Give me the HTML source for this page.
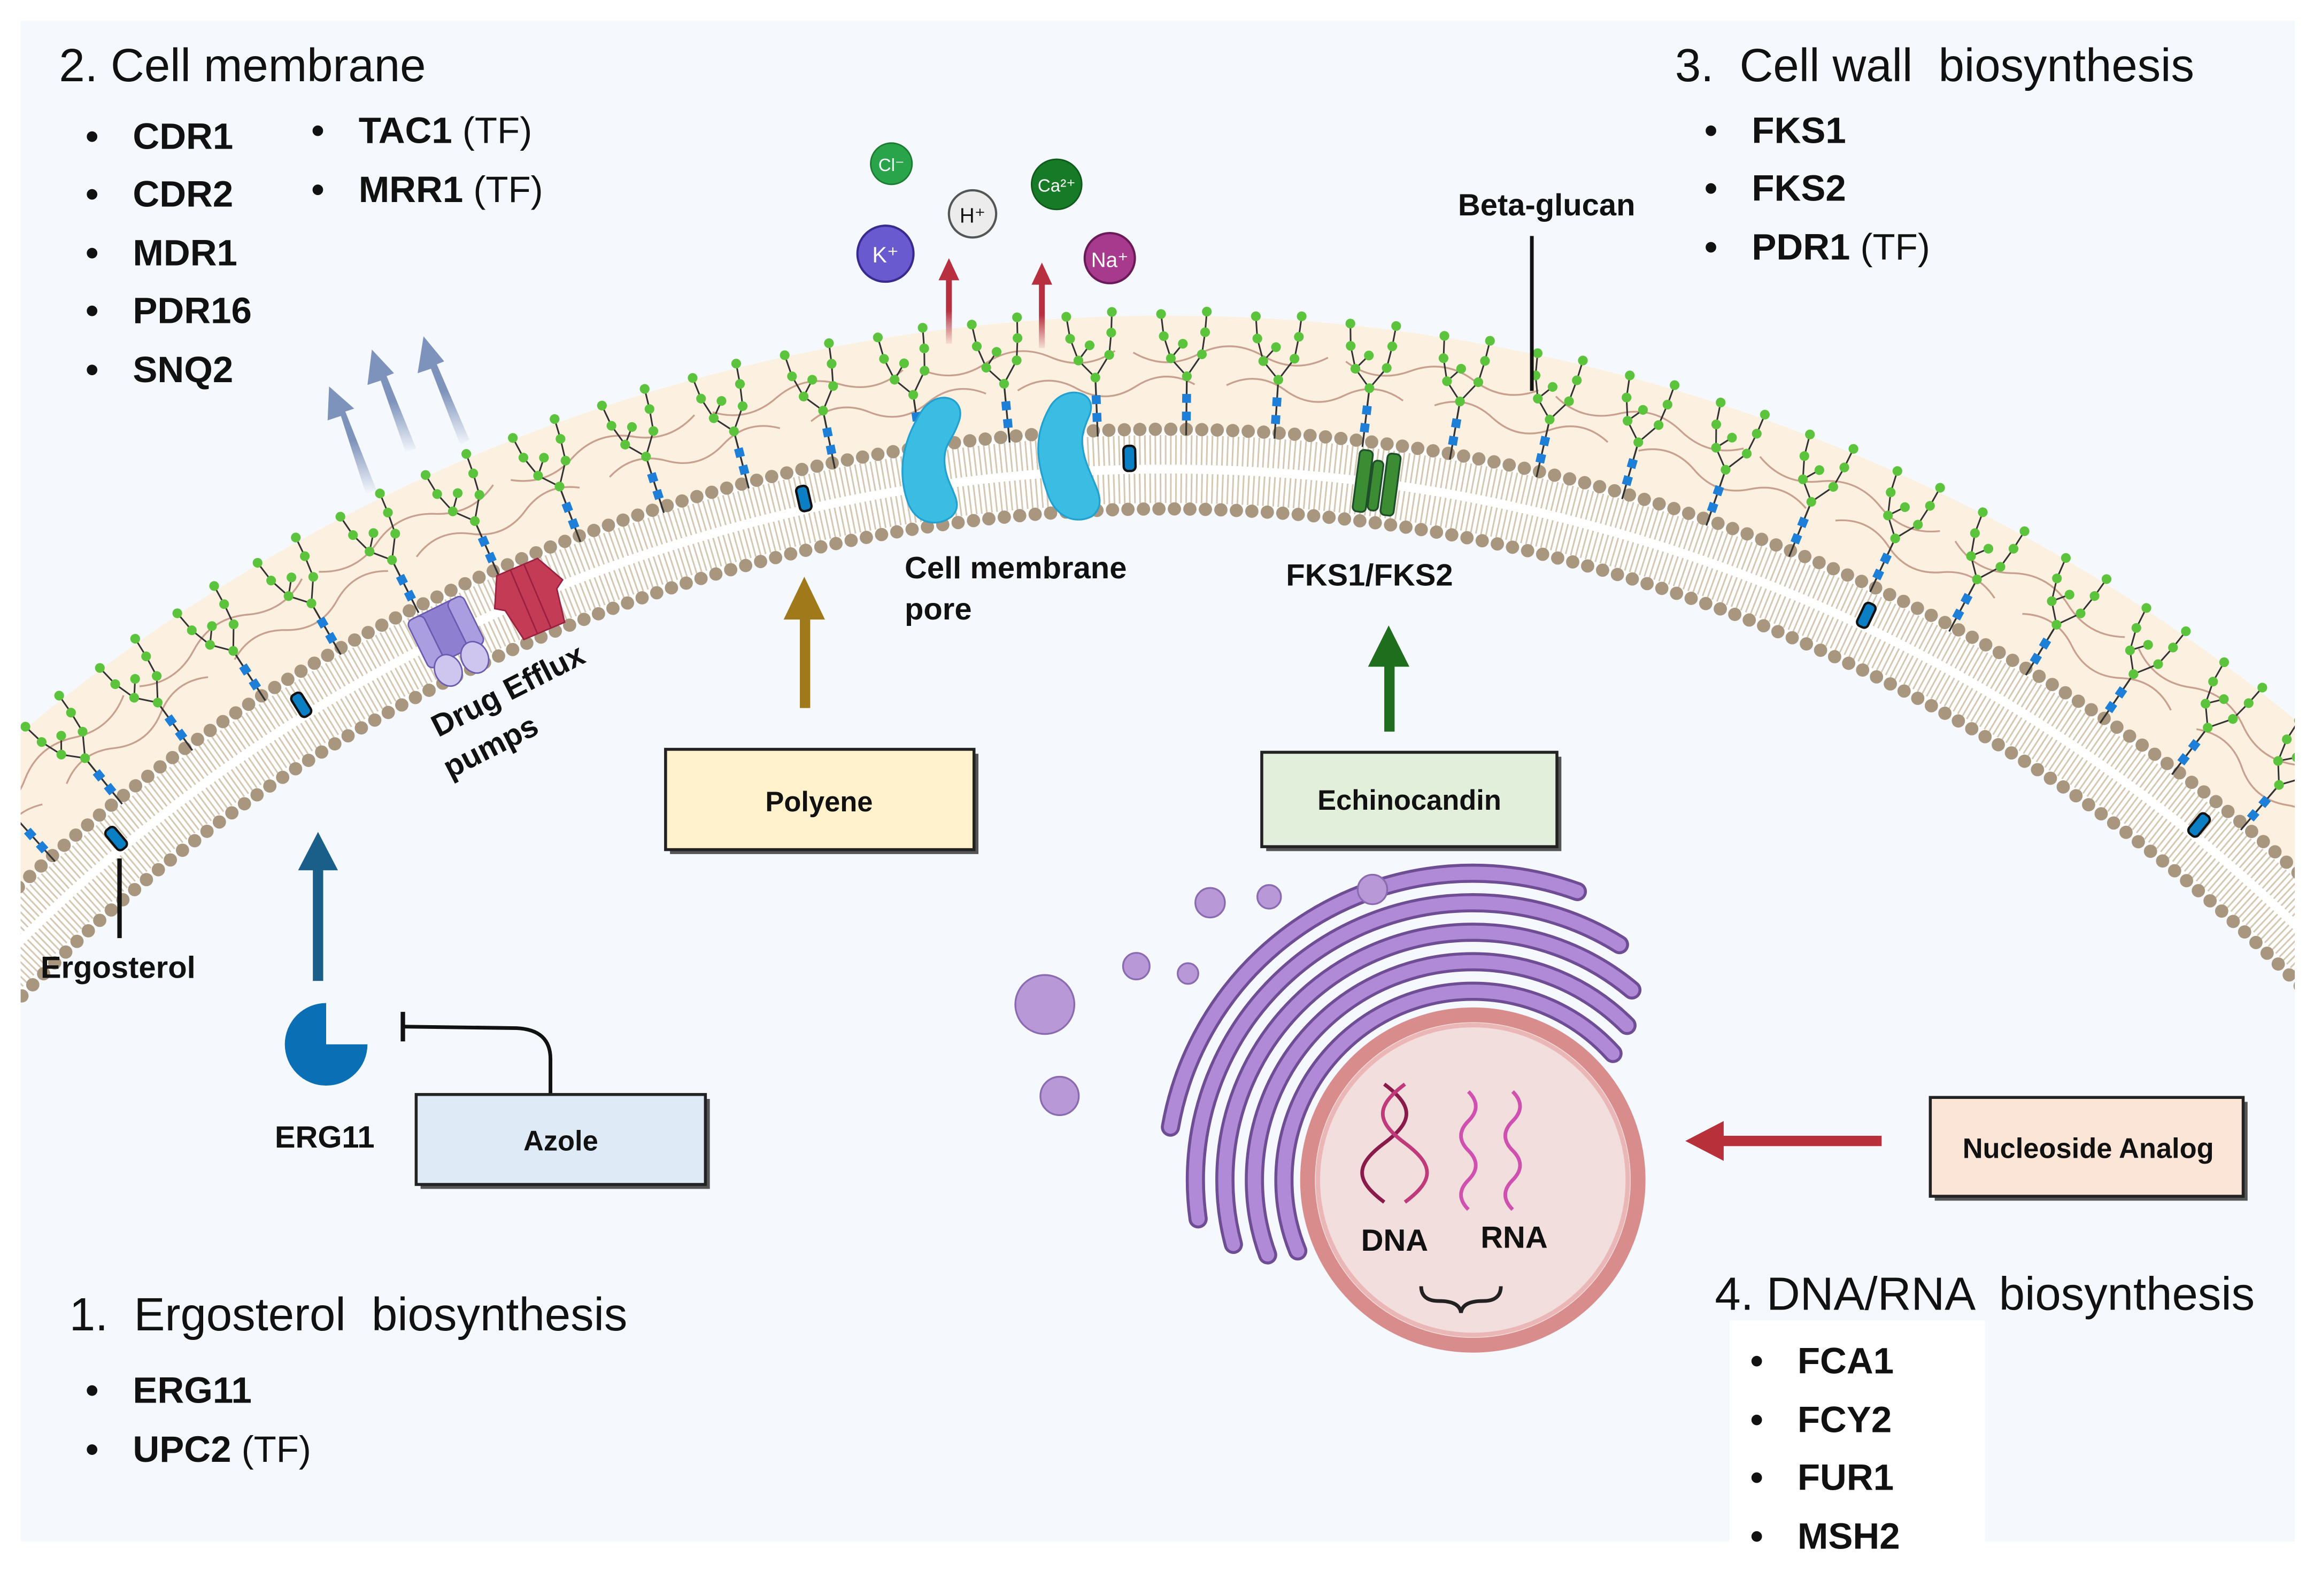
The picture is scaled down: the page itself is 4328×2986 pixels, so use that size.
<!DOCTYPE html>
<html><head><meta charset="utf-8"><style>
html,body{margin:0;padding:0;background:#fff;overflow:hidden;width:4328px;height:2986px;}
svg{display:block;}
text{font-family:"Liberation Sans",sans-serif;fill:#111;}
.h{font-size:31.5px;white-space:pre;}
.b{font-size:25px;font-weight:bold;}
.r{font-size:25px;font-weight:normal;}
.l{font-size:21px;font-weight:bold;}
.bx{font-size:19px;font-weight:bold;}
</style></head><body>
<svg width="4328" height="2986" viewBox="0 0 1568 1082" preserveAspectRatio="none" xmlns="http://www.w3.org/2000/svg">
<defs>
<clipPath id="cp"><rect x="14" y="14" width="1541" height="1031"/></clipPath>
<g id="gly" transform="translate(47 -3)">
 <line x1="743" y1="298" x2="743" y2="258" stroke="#333" stroke-width="1.2"/>
 <polyline points="743,258 732,246 727,231 725,216" fill="none" stroke="#333" stroke-width="1.1"/>
 <polyline points="732,246 740,236" fill="none" stroke="#333" stroke-width="1.1"/>
 <polyline points="743,258 753,243 755,228 756,214" fill="none" stroke="#333" stroke-width="1.1"/>
 <rect x="740" y="282" width="6" height="6" fill="#1e7fd8"/>
 <rect x="740" y="270" width="6" height="6" fill="#1e7fd8"/>
 <g fill="#5cc43c"><circle cx="743" cy="258" r="3.3"/><circle cx="732" cy="246" r="3.3"/><circle cx="727" cy="231" r="3.3"/><circle cx="725" cy="216" r="3.3"/><circle cx="740" cy="236" r="3.3"/><circle cx="753" cy="243" r="3.3"/><circle cx="755" cy="228" r="3.3"/><circle cx="756" cy="214" r="3.3"/></g>
</g>
<path id="fib1" d="M 730 262 q 20 -12 40 0 t 40 0 t 40 0" fill="none" stroke="#c9a08e" stroke-width="1.2"/>
<path id="fib2" d="M 737 240 q 22 12 44 0 t 44 0 t 44 0" fill="none" stroke="#c9a08e" stroke-width="1.2"/>
<rect id="erg" x="786.5" y="302" width="8" height="17" rx="3" fill="#0a7fc4" stroke="#111" stroke-width="1.6"/>
<linearGradient id="fadeB" x1="0" y1="1" x2="0" y2="0"><stop offset="0" stop-color="#7e93bb" stop-opacity="0"/><stop offset="0.5" stop-color="#7e93bb"/></linearGradient>
<linearGradient id="fadeR" x1="0" y1="1" x2="0" y2="0"><stop offset="0" stop-color="#b83040" stop-opacity="0.1"/><stop offset="0.5" stop-color="#b83040"/></linearGradient>
</defs>
<rect x="14" y="14" width="1541" height="1031" fill="#f5f8fc"/>
<g clip-path="url(#cp)">
 <circle cx="790" cy="1420" r="1168" fill="none" stroke="#fcf1e1" stroke-width="76"/>
 <g>
  <use href="#fib1" transform="rotate(-44 790 1420)"/><use href="#fib1" transform="rotate(-37 790 1420)"/><use href="#fib1" transform="rotate(-30 790 1420)"/><use href="#fib1" transform="rotate(-23 790 1420)"/><use href="#fib1" transform="rotate(-16 790 1420)"/><use href="#fib1" transform="rotate(-9 790 1420)"/><use href="#fib1" transform="rotate(-2 790 1420)"/><use href="#fib1" transform="rotate(5 790 1420)"/><use href="#fib1" transform="rotate(12 790 1420)"/><use href="#fib1" transform="rotate(19 790 1420)"/><use href="#fib1" transform="rotate(26 790 1420)"/><use href="#fib1" transform="rotate(33 790 1420)"/><use href="#fib1" transform="rotate(40 790 1420)"/>
  <use href="#fib2" transform="rotate(-40.5 790 1420)"/><use href="#fib2" transform="rotate(-33.5 790 1420)"/><use href="#fib2" transform="rotate(-26.5 790 1420)"/><use href="#fib2" transform="rotate(-19.5 790 1420)"/><use href="#fib2" transform="rotate(-12.5 790 1420)"/><use href="#fib2" transform="rotate(-5.5 790 1420)"/><use href="#fib2" transform="rotate(1.5 790 1420)"/><use href="#fib2" transform="rotate(8.5 790 1420)"/><use href="#fib2" transform="rotate(15.5 790 1420)"/><use href="#fib2" transform="rotate(22.5 790 1420)"/><use href="#fib2" transform="rotate(29.5 790 1420)"/><use href="#fib2" transform="rotate(36.5 790 1420)"/><use href="#fib2" transform="rotate(43.5 790 1420)"/>
 </g>
 <circle cx="790" cy="1420" r="1102" fill="none" stroke="#fff" stroke-width="54"/>
 <circle cx="790" cy="1420" r="1115" fill="none" stroke="#d4c8b2" stroke-width="20" stroke-dasharray="1.1 2.4"/>
 <circle cx="790" cy="1420" r="1089" fill="none" stroke="#d4c8b2" stroke-width="20" stroke-dasharray="1.1 2.4"/>
 <circle cx="790" cy="1420" r="1129" fill="none" stroke="#a8977e" stroke-width="9" stroke-linecap="round" stroke-dasharray="0 10.5"/>
 <circle cx="790" cy="1420" r="1075" fill="none" stroke="#a8977e" stroke-width="9" stroke-linecap="round" stroke-dasharray="0 10.5"/>
 <g>
  <use href="#gly" transform="rotate(-42 790 1420)"/><use href="#gly" transform="rotate(-38.95 790 1420)"/><use href="#gly" transform="rotate(-35.9 790 1420)"/><use href="#gly" transform="rotate(-32.85 790 1420)"/><use href="#gly" transform="rotate(-29.8 790 1420)"/><use href="#gly" transform="rotate(-26.75 790 1420)"/><use href="#gly" transform="rotate(-23.7 790 1420)"/><use href="#gly" transform="rotate(-20.65 790 1420)"/><use href="#gly" transform="rotate(-17.6 790 1420)"/><use href="#gly" transform="rotate(-14.55 790 1420)"/><use href="#gly" transform="rotate(-11.5 790 1420)"/><use href="#gly" transform="rotate(-8.45 790 1420)"/><use href="#gly" transform="rotate(-5.4 790 1420)"/><use href="#gly" transform="rotate(-2.35 790 1420)"/><use href="#gly" transform="rotate(0.7 790 1420)"/><use href="#gly" transform="rotate(3.75 790 1420)"/><use href="#gly" transform="rotate(6.8 790 1420)"/><use href="#gly" transform="rotate(9.85 790 1420)"/><use href="#gly" transform="rotate(12.9 790 1420)"/><use href="#gly" transform="rotate(15.95 790 1420)"/><use href="#gly" transform="rotate(19 790 1420)"/><use href="#gly" transform="rotate(22.05 790 1420)"/><use href="#gly" transform="rotate(25.1 790 1420)"/><use href="#gly" transform="rotate(28.15 790 1420)"/><use href="#gly" transform="rotate(31.2 790 1420)"/><use href="#gly" transform="rotate(34.25 790 1420)"/><use href="#gly" transform="rotate(37.3 790 1420)"/><use href="#gly" transform="rotate(40.35 790 1420)"/><use href="#gly" transform="rotate(43.4 790 1420)"/>
 </g>
 <use href="#erg" transform="rotate(-39.9 790 1420)"/>
 <use href="#erg" transform="rotate(-31.9 790 1420)"/>
 <use href="#erg" transform="rotate(-12.8 790 1420)"/>
 <use href="#erg" transform="rotate(-1.3 790 1420)"/>
 <use href="#erg" transform="rotate(25.3 790 1420)"/>
 <use href="#erg" transform="rotate(39.1 790 1420)"/>
 <g transform="rotate(-26.2 790 1420) translate(47 -3)">
  <path d="M 727 300 L 759 300 L 762 335 L 724 335 Z" fill="#8f7fd0" stroke="#6a5ab0" stroke-width="1"/>
  <rect x="722" y="300" width="12" height="36" rx="4" fill="#ab9ee0" stroke="#6a5ab0"/>
  <rect x="752" y="300" width="12" height="36" rx="4" fill="#ab9ee0" stroke="#6a5ab0"/>
  <ellipse cx="733" cy="342" rx="9" ry="11" fill="#cfc6f0" stroke="#6a5ab0"/>
  <ellipse cx="753" cy="342" rx="9" ry="11" fill="#cfc6f0" stroke="#6a5ab0"/>
 </g>
 <g transform="rotate(-23 790 1420) translate(47 -3)">
  <path d="M 728 298 L 758 298 L 768 318 L 762 322 L 758 345 L 728 345 L 724 322 L 718 318 Z" fill="#c43b55" stroke="#9a2040" stroke-width="1"/>
  <line x1="738" y1="298" x2="738" y2="345" stroke="#9a2040"/><line x1="748" y1="298" x2="748" y2="345" stroke="#9a2040"/>
 </g>
 <g transform="rotate(7.5 790 1420) translate(47 -3)">
  <rect x="728" y="300" width="9" height="42" rx="3" fill="#3c8c34" stroke="#1e4e2a" stroke-width="1.2"/>
  <rect x="738" y="306" width="7" height="34" rx="3" fill="#3c8c34" stroke="#1e4e2a" stroke-width="1.2"/>
  <rect x="747" y="300" width="9" height="42" rx="3" fill="#3c8c34" stroke="#1e4e2a" stroke-width="1.2"/>
 </g>
 <path d="M 622 283 C 632 262 655 268 650 285 C 645 300 640 300 640 312 C 640 330 655 340 645 350 C 635 358 620 355 615 340 C 608 320 612 300 622 283 Z" fill="#3bbde3" stroke="#22a0d0" stroke-width="1.2"/>
 <path d="M 712 275 C 722 260 745 265 738 282 C 733 294 732 298 735 310 C 740 328 752 340 740 350 C 728 356 715 350 710 335 C 702 312 700 295 712 275 Z" fill="#3bbde3" stroke="#22a0d0" stroke-width="1.2"/>
</g>
<g fill="url(#fadeB)">
 <path d="M 248 335 L 231 282 L 222 285 L 223 262 L 240 277 L 234 279 L 255 332 Z"/>
 <path d="M 275 307 L 258 258 L 249 261 L 252 237 L 267 253 L 262 255 L 282 304 Z"/>
 <path d="M 312 302 L 292 250 L 283 253 L 287 228 L 301 245 L 296 247 L 318 298 Z"/>
</g>
<circle cx="604" cy="111" r="14" fill="#2aa44a" stroke="#1a7a30"/><text x="604" y="116" font-size="12" text-anchor="middle" style="fill:#fff">Cl⁻</text>
<circle cx="659" cy="145" r="16" fill="#ececec" stroke="#555" stroke-width="1.5"/><text x="659" y="151" font-size="14" text-anchor="middle">H⁺</text>
<circle cx="716" cy="125" r="17" fill="#167a26" stroke="#0d5a1a"/><text x="716" y="130" font-size="12" text-anchor="middle" style="fill:#fff">Ca²⁺</text>
<circle cx="600" cy="172" r="19" fill="#6a5ad0" stroke="#3a2a90" stroke-width="1.5"/><text x="600" y="178" font-size="15" text-anchor="middle" style="fill:#fff">K⁺</text>
<circle cx="752" cy="175" r="17" fill="#a83a8e" stroke="#6a1a5a" stroke-width="1.5"/><text x="752" y="181" font-size="14" text-anchor="middle" style="fill:#fff">Na⁺</text>
<rect x="641" y="188" width="4" height="45" fill="url(#fadeR)"/><path d="M 636 190 L 643 175 L 650 190 Z" fill="#b83040"/>
<rect x="704" y="191" width="4" height="45" fill="url(#fadeR)"/><path d="M 699 193 L 706 178 L 713 193 Z" fill="#b83040"/>
<text x="1048" y="146" class="l" text-anchor="middle">Beta-glucan</text>
<line x1="1038" y1="160" x2="1038" y2="265" stroke="#111" stroke-width="2.5"/>
<line x1="81" y1="582" x2="81" y2="636" stroke="#111" stroke-width="3"/>
<text x="80" y="663" class="l" text-anchor="middle">Ergosterol</text>
<text transform="translate(297 500) rotate(-27)" class="l">Drug Efflux</text>
<text transform="translate(305 528) rotate(-27)" class="l">pumps</text>
<text x="613" y="392" class="l">Cell membrane</text>
<text x="613" y="420" class="l">pore</text>
<text x="928" y="397" class="l" text-anchor="middle">FKS1/FKS2</text>
<rect x="542" y="418" width="7" height="62" fill="#a07a1a"/><path d="M 531 420 L 545 391 L 559 420 Z" fill="#a07a1a"/>
<rect x="938" y="450" width="7" height="46" fill="#1e6e1e"/><path d="M 927 452 L 941 424 L 955 452 Z" fill="#1e6e1e"/>
<rect x="212" y="588" width="7" height="77" fill="#1a5f8a"/><path d="M 202 590 L 215.5 564 L 229 590 Z" fill="#1a5f8a"/>
<rect x="1165" y="770" width="110" height="7" fill="#b8303a"/><path d="M 1168 760 L 1142 773.5 L 1168 787 Z" fill="#b8303a"/>
<path d="M 221 708 L 221 680 A 28 28 0 1 0 249 708 Z" fill="#0a6fb5"/>
<text x="220" y="778" class="l" text-anchor="middle">ERG11</text>
<path d="M 373 742 L 373 718 Q 373 698 350 697 L 274 696" fill="none" stroke="#111" stroke-width="2.5"/>
<line x1="273" y1="686" x2="273" y2="706" stroke="#111" stroke-width="3"/>
<g stroke="#222" stroke-width="2">
 <rect x="454" y="511" width="209" height="68" fill="#555" stroke="none"/>
 <rect x="451" y="508" width="209" height="68" fill="#fff2cc"/>
 <rect x="858" y="513" width="200" height="64" fill="#555" stroke="none"/>
 <rect x="855" y="510" width="200" height="64" fill="#e2efda"/>
 <rect x="285" y="745" width="196" height="61" fill="#555" stroke="none"/>
 <rect x="282" y="742" width="196" height="61" fill="#deebf7"/>
 <rect x="1311" y="747" width="212" height="67" fill="#555" stroke="none"/>
 <rect x="1308" y="744" width="212" height="67" fill="#fbe5d6"/>
</g>
<text x="555" y="550" class="bx" text-anchor="middle">Polyene</text>
<text x="955" y="549" class="bx" text-anchor="middle">Echinocandin</text>
<text x="380" y="780" class="bx" text-anchor="middle">Azole</text>
<text x="1415" y="785" class="bx" text-anchor="middle">Nucleoside Analog</text>
<g fill="none" stroke-linecap="round">
 <g stroke="#6e4d95" stroke-width="13">
  <circle cx="998" cy="800" r="128" pathLength="360" stroke-dasharray="160 200" stroke-dashoffset="-158"/>
  <circle cx="998" cy="800" r="148" pathLength="360" stroke-dasharray="155 205" stroke-dashoffset="-160"/>
  <circle cx="998" cy="800" r="168" pathLength="360" stroke-dasharray="145 215" stroke-dashoffset="-165"/>
  <circle cx="998" cy="800" r="188" pathLength="360" stroke-dasharray="130 230" stroke-dashoffset="-172"/>
  <circle cx="998" cy="800" r="208" pathLength="360" stroke-dasharray="100 260" stroke-dashoffset="-190"/>
 </g>
 <g stroke="#b08ad6" stroke-width="9">
  <circle cx="998" cy="800" r="128" pathLength="360" stroke-dasharray="160 200" stroke-dashoffset="-158"/>
  <circle cx="998" cy="800" r="148" pathLength="360" stroke-dasharray="155 205" stroke-dashoffset="-160"/>
  <circle cx="998" cy="800" r="168" pathLength="360" stroke-dasharray="145 215" stroke-dashoffset="-165"/>
  <circle cx="998" cy="800" r="188" pathLength="360" stroke-dasharray="130 230" stroke-dashoffset="-172"/>
  <circle cx="998" cy="800" r="208" pathLength="360" stroke-dasharray="100 260" stroke-dashoffset="-190"/>
 </g>
</g>
<g fill="#b898d6" stroke="#8a6ab0" stroke-width="1.2">
 <circle cx="708" cy="681" r="20"/><circle cx="718" cy="743" r="13"/><circle cx="770" cy="655" r="9"/><circle cx="820" cy="612" r="10"/><circle cx="860" cy="608" r="8"/><circle cx="930" cy="603" r="10"/><circle cx="805" cy="660" r="7"/>
</g>
<circle cx="998" cy="800" r="112" fill="#f3dede" stroke="#d88c8c" stroke-width="10"/>
<circle cx="998" cy="800" r="105" fill="none" stroke="#eab6b6" stroke-width="3"/>
<g fill="none" stroke-width="2.5">
 <path d="M 938 735 C 958 750 958 760 938 775 C 918 790 918 800 938 815" stroke="#8a1a4a"/>
 <path d="M 952 735 C 932 750 932 760 952 775 C 972 790 972 800 952 815" stroke="#c03a7a"/>
 <path d="M 995 740 q 10 10 0 20 q -10 10 0 20 q 10 10 0 20 q -10 10 0 20" stroke="#d050b0"/>
 <path d="M 1025 740 q 10 10 0 20 q -10 10 0 20 q 10 10 0 20 q -10 10 0 20" stroke="#d050b0"/>
 <path d="M 963 872 q 0 10 12 10 q 14 0 15 8 q 1 -8 15 -8 q 12 0 12 -10" stroke="#222"/>
</g>
<text x="945" y="848" class="l" text-anchor="middle">DNA</text>
<text x="1026" y="846" class="l" text-anchor="middle">RNA</text>
<text x="40" y="55" class="h">2. Cell membrane</text>
<text x="58" y="101" class="b">•</text><text x="90" y="101" class="b">CDR1</text>
<text x="58" y="140" class="b">•</text><text x="90" y="140" class="b">CDR2</text>
<text x="58" y="180" class="b">•</text><text x="90" y="180" class="b">MDR1</text>
<text x="58" y="219" class="b">•</text><text x="90" y="219" class="b">PDR16</text>
<text x="58" y="259" class="b">•</text><text x="90" y="259" class="b">SNQ2</text>
<text x="211" y="97" class="b">•</text><text x="243" y="97"><tspan class="b">TAC1</tspan><tspan class="r"> (TF)</tspan></text>
<text x="211" y="137" class="b">•</text><text x="243" y="137"><tspan class="b">MRR1</tspan><tspan class="r"> (TF)</tspan></text>
<text x="1135" y="55" class="h">3.  Cell wall  biosynthesis</text>
<text x="1155" y="97" class="b">•</text><text x="1187" y="97" class="b">FKS1</text>
<text x="1155" y="136" class="b">•</text><text x="1187" y="136" class="b">FKS2</text>
<text x="1155" y="176" class="b">•</text><text x="1187" y="176"><tspan class="b">PDR1</tspan><tspan class="r"> (TF)</tspan></text>
<text x="47" y="902" class="h">1.  Ergosterol  biosynthesis</text>
<text x="58" y="951" class="b">•</text><text x="90" y="951" class="b">ERG11</text>
<text x="58" y="991" class="b">•</text><text x="90" y="991"><tspan class="b">UPC2</tspan><tspan class="r"> (TF)</tspan></text>
<rect x="1172" y="895" width="173" height="173" fill="#fff"/>
<text x="1162" y="888" class="h">4. DNA/RNA  biosynthesis</text>
<text x="1186" y="931" class="b">•</text><text x="1218" y="931" class="b">FCA1</text>
<text x="1186" y="971" class="b">•</text><text x="1218" y="971" class="b">FCY2</text>
<text x="1186" y="1010" class="b">•</text><text x="1218" y="1010" class="b">FUR1</text>
<text x="1186" y="1050" class="b">•</text><text x="1218" y="1050" class="b">MSH2</text>
</svg>
</body></html>
